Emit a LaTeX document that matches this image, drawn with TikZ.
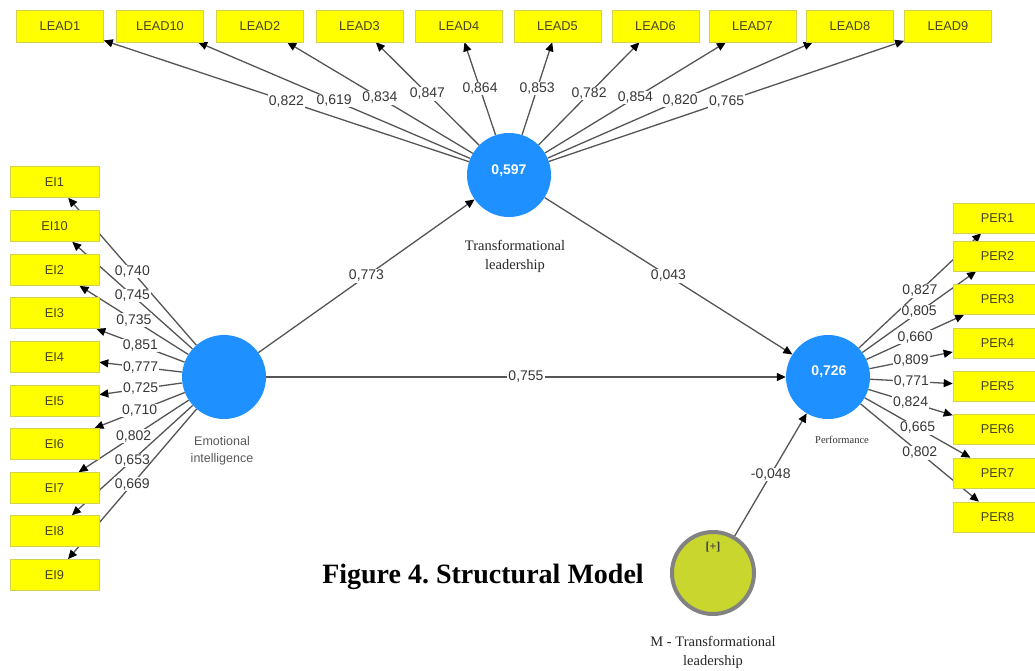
\documentclass[tikz,border=0pt]{standalone}
\usepackage{fontspec}
\setmainfont{Liberation Sans}
\newfontfamily\serifff{Liberation Serif}
\usetikzlibrary{arrows.meta}
\definecolor{plsblue}{RGB}{30,144,255}
\definecolor{indyellow}{RGB}{255,255,0}
\definecolor{indborder}{RGB}{210,210,80}
\definecolor{indtext}{RGB}{70,70,35}
\definecolor{linegray}{RGB}{85,85,85}
\definecolor{labgray}{RGB}{55,55,55}
\definecolor{modfill}{RGB}{200,214,46}
\definecolor{modring}{RGB}{130,130,130}
\pgfdeclarelayer{bg}
\pgfdeclarelayer{edges}
\pgfsetlayers{bg,edges,main}
\begin{document}
\begin{tikzpicture}[x=1pt,y=-1pt,
 indbox/.style={draw=indborder, line width=0.6pt, fill=indyellow, minimum width=87pt, minimum height=31pt, inner sep=0pt, font=\fontsize{12.8}{14}\selectfont, text=indtext},
 latent/.style={circle, fill=plsblue, minimum size=84pt, inner sep=0pt},
 valtext/.style={text=white, font=\fontsize{14}{16}\selectfont\bfseries, inner sep=0pt},
 load/.style={draw=linegray, line width=1.3pt, -{Triangle[length=9pt,width=8pt,color=black]}},
 lab/.style={fill=white, inner sep=1pt, text=labgray, font=\fontsize{14}{16}\selectfont},
 serlab/.style={align=center, font=\serifff\fontsize{14.5}{19}\selectfont, text=black!85},
]
\clip (0,0) rectangle (1035,671);
\begin{pgfonlayer}{bg}
\fill[white] (0,0) rectangle (1035,671);
\end{pgfonlayer}

% latent variables
\node[latent] (tl) at (509,175) {};
\node[valtext] (tlv) at (509,171) {0,597};
\node[latent] (ei) at (224,377) {};
\node[latent] (per) at (828,377) {};
\node[valtext] (perv) at (829,372) {0,726};
\node[circle, draw=modring, line width=4pt, fill=modfill, minimum size=82pt, inner sep=0pt] (m) at (713,573) {};
\node[font=\serifff\bfseries\fontsize{12}{13}\selectfont, text=black!75] (mplus) at (713,547) {[+]};

% latent labels
\node[serlab] (tllab) at (515,256) {Transformational\\leadership};
\node[align=center, text=black!65, font=\fontsize{12.5}{17}\selectfont] (eilab) at (222,451) {Emotional\\intelligence};
\node[font=\serifff\fontsize{10.5}{12}\selectfont, text=black!80] (perlab) at (842,440) {Performance};
\node[serlab, anchor=north, inner sep=1pt] (mlab) at (713,635) {M - Transformational\\leadership};

% indicator boxes
\foreach \n/\x in {1/60,10/160,2/260,3/359.5,4/459,5/557.5,6/655.5,7/752.5,8/850,9/948}
  \node[indbox, minimum height=32pt] (lead\n) at (\x,26) {LEAD\n};
\foreach \n/\y in {1/182,10/226,2/270,3/313,4/357,5/401,6/444,7/488,8/531,9/575}
  \node[indbox, minimum width=89pt] (ei\n) at (54.5,\y) {EI\n};
\foreach \n/\y in {1/218,2/256,3/299.5,4/343,5/386,6/429,7/473,8/517}
  \node[indbox, minimum width=89pt, minimum height=30pt] (per\n) at (997.5,\y) {PER\n};

% caption
\node[font=\serifff\bfseries\fontsize{28}{30}\selectfont, anchor=base] (cap) at (483,583) {\frenchspacing Figure 4. Structural Model};

\begin{pgfonlayer}{edges}
\foreach \n/\v in {1/0{,}822,10/0{,}619,2/0{,}834,3/0{,}847,4/0{,}864,5/0{,}853,6/0{,}782,7/0{,}854,8/0{,}820,9/0{,}765}
  \draw[load] (tl) -- node[lab]{\v} (lead\n);
\foreach \n/\v in {1/0{,}740,10/0{,}745,2/0{,}735,3/0{,}851,4/0{,}777,5/0{,}725,6/0{,}710,7/0{,}802,8/0{,}653,9/0{,}669}
  \draw[load] (ei) -- node[lab]{\v} (ei\n);
\foreach \n/\v in {1/0{,}827,2/0{,}805,3/0{,}660,4/0{,}809,5/0{,}771,6/0{,}824,7/0{,}665,8/0{,}802}
  \draw[load] (per) -- node[lab]{\v} (per\n);
\draw[load] (ei) -- node[lab]{0,773} (tl);
\draw[load] (ei) -- node[lab]{0,755} (per);
\draw[load] (tl) -- node[lab]{0,043} (per);
\draw[load] (m) -- node[lab]{-0,048} (per);
\end{pgfonlayer}
\end{tikzpicture}
\end{document}
